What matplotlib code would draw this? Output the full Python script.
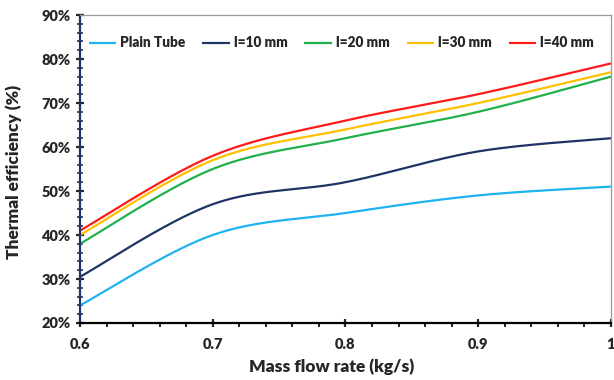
import numpy as np
import matplotlib
matplotlib.use("Agg")
import matplotlib.pyplot as plt
from matplotlib.ticker import MultipleLocator, FuncFormatter

plt.rcParams['font.family'] = ['Lato', 'DejaVu Sans']

mass_flow = [0.6, 0.7, 0.8, 0.9, 1.0]
series_names = ["Plain Tube", "l=10 mm", "l=20 mm", "l=30 mm", "l=40 mm"]
plain_tube = [24, 40, 45, 49, 51]
l10 = [30.5, 47, 52, 59, 62]
l20 = [38, 55, 62, 68, 76]
l30 = [40, 57, 64, 70, 77]
l40 = [41, 58, 66, 72, 79]
colors = ["#1EB4F0", "#1F3366", "#22B04B", "#FFC000", "#FF1A1A"]


def excel_smooth(x, y, n=40):
    x = np.asarray(x, float); y = np.asarray(y, float)
    px = np.concatenate([[x[0]], x, [x[-1]]])
    py = np.concatenate([[y[0]], y, [y[-1]]])
    xs, ys = [], []
    t = np.linspace(0, 1, n)
    for i in range(1, len(px) - 2):
        p0 = np.array([px[i], py[i]]); p3 = np.array([px[i + 1], py[i + 1]])
        p1 = p0 + (np.array([px[i + 1], py[i + 1]]) - np.array([px[i - 1], py[i - 1]])) / 6
        p2 = p3 - (np.array([px[i + 2], py[i + 2]]) - np.array([px[i], py[i]])) / 6
        b = ((1 - t) ** 3)[:, None] * p0 + (3 * (1 - t) ** 2 * t)[:, None] * p1 \
            + (3 * (1 - t) * t ** 2)[:, None] * p2 + (t ** 3)[:, None] * p3
        xs.append(b[:, 0]); ys.append(b[:, 1])
    return np.concatenate(xs), np.concatenate(ys)


fig = plt.figure(figsize=(6.14, 3.8), dpi=100)
ax = fig.add_axes([0.1303, 0.15, 0.995 - 0.1303, 0.9605 - 0.15])

for name, vals, c in zip(series_names, [plain_tube, l10, l20, l30, l40], colors):
    sx, sy = excel_smooth(mass_flow, vals)
    ax.plot(sx, sy, color=c, lw=1.6, label=name, solid_capstyle='butt')

ax.set_xlim(0.6, 1.0)
ax.set_ylim(20, 90)
ax.xaxis.set_major_locator(MultipleLocator(0.1))
ax.xaxis.set_minor_locator(MultipleLocator(0.02))
ax.yaxis.set_major_locator(MultipleLocator(10))
ax.yaxis.set_minor_locator(MultipleLocator(2))
ax.xaxis.set_major_formatter(FuncFormatter(lambda v, p: "1" if abs(v - 1) < 1e-9 else f"{v:.1f}"))
ax.yaxis.set_major_formatter(FuncFormatter(lambda v, p: f"{v:.0f}%"))

navy = "#1F3366"
ax.spines['left'].set_color(navy)
ax.spines['left'].set_linewidth(1.6)
ax.spines['bottom'].set_color("black")
ax.spines['bottom'].set_linewidth(1.6)
for s in ['top', 'right']:
    ax.spines[s].set_color("#999999")
    ax.spines[s].set_linewidth(0.9)

ax.tick_params(axis='y', which='major', direction='inout', length=6, width=1.6, color=navy)
ax.tick_params(axis='y', which='minor', direction='inout', length=4, width=1.2, color=navy)
ax.tick_params(axis='x', which='major', direction='inout', length=6, width=1.6, color='black')
ax.tick_params(axis='x', which='minor', direction='out', length=3, width=1.2, color='black')
ax.tick_params(axis='both', labelsize=10.5, colors='#262626', pad=4)
ax.tick_params(axis='x', pad=7.5)
for lab in ax.get_xticklabels() + ax.get_yticklabels():
    lab.set_fontweight('heavy')

ax.set_xlabel("Mass flow rate (kg/s)", fontsize=12.5, fontweight='heavy', color='#262626')
ax.set_ylabel("Thermal efficiency (%)", fontsize=12.5, fontweight='heavy', color='#262626')
ax.xaxis.set_label_coords(0.4736, -0.115)
ax.yaxis.set_label_coords(-0.109, 0.49)

leg = ax.legend(loc='upper center', ncol=5, frameon=False, bbox_to_anchor=(0.492, 0.97),
                prop={'weight': 'heavy', 'size': 9.8}, handlelength=2.0, columnspacing=1.25,
                handletextpad=0.3)
for t in leg.get_texts():
    t.set_color('#262626')

fig.savefig("out.png", dpi=100)
